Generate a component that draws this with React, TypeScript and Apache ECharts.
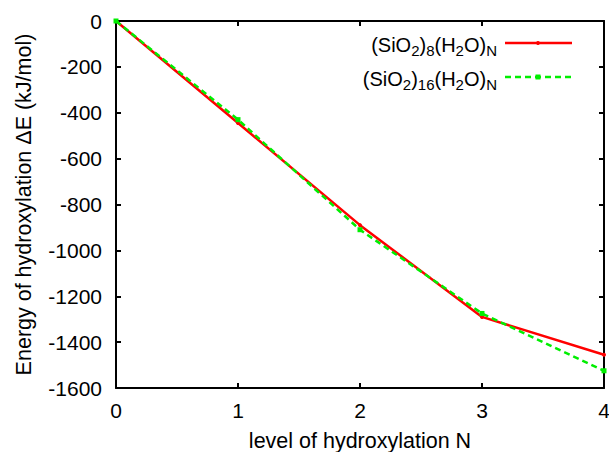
import React, { useEffect, useRef } from "react";
import * as echarts from "echarts";

const levels = [0, 1, 2, 3, 4];
const si8 = [0, -445, -890, -1290, -1455];
const si16 = [0, -430, -910, -1275, -1525];
const xTicks = [0, 1, 2, 3, 4];
const yTicks = [0, -200, -400, -600, -800, -1000, -1200, -1400, -1600];

const FONT = "Liberation Sans, Arial, Helvetica, sans-serif";
const RED = "#ff0000";
const GREEN = "#00ee00";

export default function App() {
  const ref = useRef<HTMLDivElement>(null);
  useEffect(() => {
    if (!ref.current) return;
    const chart = echarts.init(ref.current, undefined, { renderer: "svg" });
    const rich = {
      n: { fontSize: 20, fontFamily: FONT, color: "#000" },
      s: { fontSize: 15, fontFamily: FONT, color: "#000", padding: [10, 0, 0, 0] },
    };
    const mirrorAxis = {
      axisLine: { show: true, onZero: false, lineStyle: { color: "#000", width: 2 } },
      axisTick: { show: true, inside: true, length: 5, lineStyle: { color: "#000", width: 2 } },
      axisLabel: { show: false },
      splitLine: { show: false },
    };
    const legendRow = (y: number, label: string, color: string, dashed: boolean, sym: "dot" | "sq") => ({
      type: "group",
      children: [
        {
          type: "text",
          x: 497,
          y: y + 2,
          style: { text: label, rich, align: "right", verticalAlign: "middle" },
        },
        {
          type: "line",
          shape: { x1: 505, y1: y, x2: 572, y2: y },
          style: { stroke: color, lineWidth: 2.5, lineDash: dashed ? [6, 4] : null },
        },
        sym === "dot"
          ? { type: "circle", shape: { cx: 538, cy: y, r: 2 }, style: { fill: color } }
          : { type: "rect", shape: { x: 535.5, y: y - 2.5, width: 5, height: 5 }, style: { fill: color } },
      ],
    });
    chart.setOption({
      animation: false,
      textStyle: { fontFamily: FONT },
      grid: { left: 116, right: 5, top: 21, bottom: 64, outerBoundsMode: "none", containLabel: false },
      graphic: [
        legendRow(43, "{n|(SiO}{s|2}{n|)}{s|8}{n|(H}{s|2}{n|O)}{s|N}", RED, false, "dot"),
        legendRow(77, "{n|(SiO}{s|2}{n|)}{s|16}{n|(H}{s|2}{n|O)}{s|N}", GREEN, true, "sq"),
      ],
      xAxis: [
        {
          type: "value",
          min: 0,
          max: 4,
          interval: 1,
          name: "level of hydroxylation N",
          nameLocation: "middle",
          nameGap: 42,
          nameTextStyle: { fontSize: 21.5, color: "#000", fontFamily: FONT },
          axisLine: { show: true, onZero: false, lineStyle: { color: "#000", width: 2 } },
          axisTick: { show: true, inside: true, length: 5, lineStyle: { color: "#000", width: 2 } },
          axisLabel: {
            fontSize: 21,
            color: "#000",
            margin: 12,
            fontFamily: FONT,
            formatter: (v: number) => (xTicks.includes(v) ? String(v) : ""),
          },
          splitLine: { show: false },
        },
        { type: "value", position: "top", min: 0, max: 4, interval: 1, ...mirrorAxis },
      ],
      yAxis: [
        {
          type: "value",
          min: -1600,
          max: 0,
          interval: 200,
          name: "Energy of hydroxylation ΔE (kJ/mol)",
          nameLocation: "middle",
          nameGap: 81,
          nameTextStyle: { fontSize: 21.5, color: "#000", fontFamily: FONT },
          axisLine: { show: true, onZero: false, lineStyle: { color: "#000", width: 2 } },
          axisTick: { show: true, inside: true, length: 5, lineStyle: { color: "#000", width: 2 } },
          axisLabel: {
            fontSize: 21,
            color: "#000",
            margin: 14,
            fontFamily: FONT,
            formatter: (v: number) => (yTicks.includes(v) ? String(v) : ""),
          },
          splitLine: { show: false },
        },
        { type: "value", position: "right", min: -1600, max: 0, interval: 200, ...mirrorAxis },
      ],
      series: [
        {
          name: "a",
          type: "line",
          data: levels.map((x, i) => [x, si8[i]]),
          symbol: "circle",
          symbolSize: 4,
          itemStyle: { color: RED },
          lineStyle: { color: RED, width: 2.5 },
          z: 2,
        },
        {
          name: "b",
          type: "line",
          data: levels.map((x, i) => [x, si16[i]]),
          symbol: "rect",
          symbolSize: 5,
          itemStyle: { color: GREEN },
          lineStyle: { color: GREEN, width: 2.5, type: [6, 4] },
          z: 3,
        },
      ],
    });
    return () => chart.dispose();
  }, []);
  return <div ref={ref} style={{ width: 609, height: 452, position: "absolute", left: 0, top: 0 }} />;
}
